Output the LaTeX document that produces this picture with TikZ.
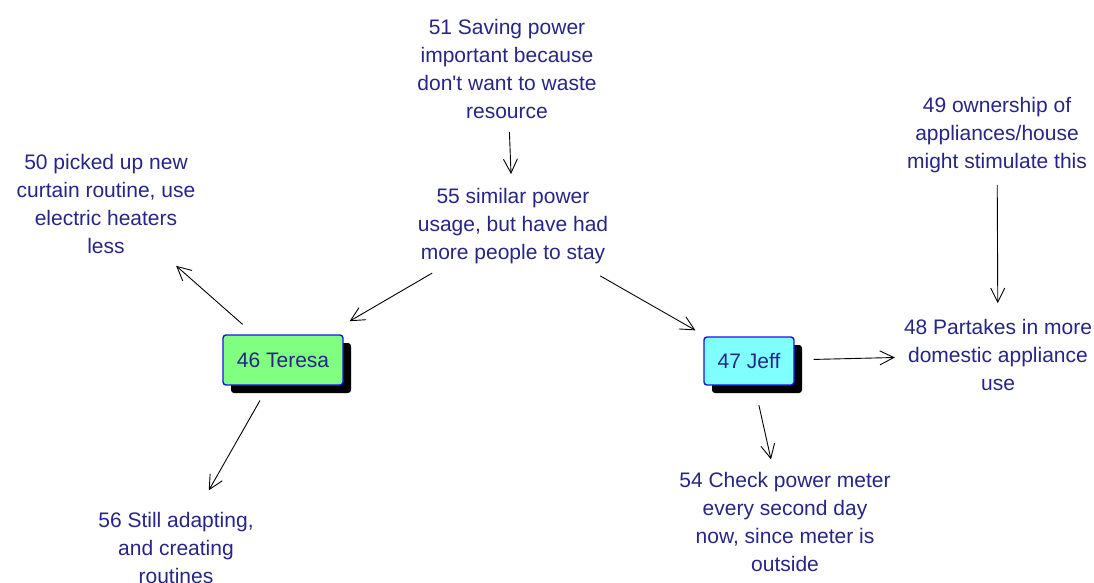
\documentclass[tikz,border=0pt]{standalone}
\usepackage{fontspec}
\setmainfont{Liberation Sans}
\usetikzlibrary{arrows.meta,shadows}
\definecolor{labelblue}{RGB}{38,38,134}
\definecolor{teresagreen}{RGB}{128,255,128}
\definecolor{jeffcyan}{RGB}{128,255,255}
\definecolor{boxborder}{RGB}{20,20,235}
\begin{document}
\begin{tikzpicture}[x=1pt,y=-1pt,
  concept/.style={align=center,inner sep=0pt,text=labelblue,
    font=\fontsize{21}{28}\selectfont},
  person/.style={concept,draw=boxborder,line width=1.4pt,rounded corners=3pt,
    minimum width=120pt,minimum height=50pt,
    drop shadow={shadow xshift=8pt,shadow yshift=-8pt,fill=black,opacity=1}},
  link/.style={draw=black,line width=0.9pt,-{Straight Barb[length=14pt,width=14pt,line width=0.9pt]}}
]
\useasboundingbox (0,0) rectangle (1094,583);
\fill[white] (0,0) rectangle (1094,583);

% concepts
\node[concept] (c51) at (507,69) {51 Saving power\\important because\\don\textquotesingle t want to waste\\resource};
\node[concept] (c55) at (513,226) {55 similar power\\usage, but have had\\more people to stay};
\node[concept] (c50) at (106,204) {50 picked up new\\curtain routine, use\\electric heaters\\less};
\node[concept] (c49) at (997,135) {49 ownership of\\appliances/house\\might stimulate this};
\node[concept] (c48) at (998,355) {48 Partakes in more\\domestic appliance\\use};
\node[concept] (c54) at (785,522) {54 Check power meter\\every second day\\now, since meter is\\outside};
\node[concept] (c56) at (176,548) {56 Still adapting,\\and creating\\routines};

% people
\node[person,fill=teresagreen] (c46) at (283,360) {46 Teresa};
\node[person,fill=jeffcyan,minimum width=90pt,minimum height=48pt] (c47) at (749,361) {47 Jeff};

% links
\draw[link,shorten <=13pt,shorten >=14pt] (c51) -- (c55);
\draw[link,shorten <=18pt,shorten >=26pt] (c55) -- (c46);
\draw[link,shorten <=24pt,shorten >=12pt] (c55) -- (c47);
\draw[link,shorten <=15pt,shorten >=18pt] (c46) -- (c50);
\draw[link,shorten <=17pt,shorten >=25pt] (c46) -- (c56);
\draw[link,shorten <=19pt,shorten >=9pt] (c47) -- (c48);
\draw[link,shorten <=20pt,shorten >=13pt] (c47) -- (c54);
\draw[link,shorten <=12pt,shorten >=16pt] (c49) -- (c48);
\end{tikzpicture}
\end{document}
